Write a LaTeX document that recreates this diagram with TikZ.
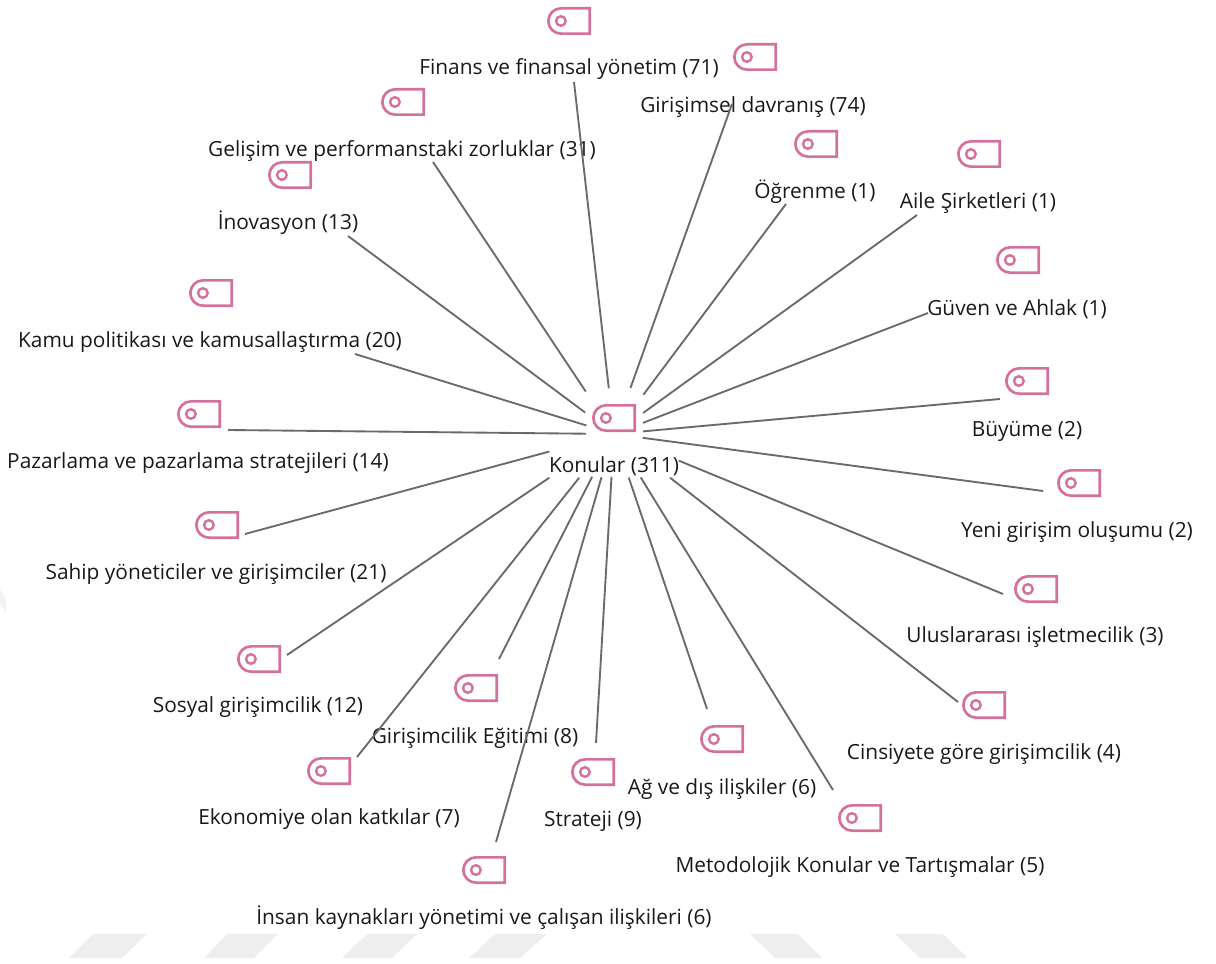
\documentclass[tikz,border=0pt]{standalone}
\usepackage{fontspec}
\setmainfont{Open Sans}
\usetikzlibrary{shapes.misc}
\definecolor{tagpink}{HTML}{D4709C}
\definecolor{linkgray}{HTML}{6A6A6A}
\definecolor{markgray}{HTML}{EEEEEE}
\tikzset{
  tagbox/.style={rounded rectangle,rounded rectangle right arc=none,draw=tagpink,line width=2pt,
    minimum width=31pt,minimum height=19pt,inner sep=0pt,
    path picture={\draw[tagpink,line width=1.8pt] ([xshift=9.4pt]path picture bounding box.west) circle (3.6pt);}},
  topic/.style={font=\fontsize{15.65}{18}\selectfont,inner sep=0pt,text height=14.5pt,text depth=3.5pt,text=black!90},
  link/.style={draw=linkgray,line width=1.4pt},
  gap/.style={shorten <=#1*0.75pt}
}
\begin{document}
\begin{tikzpicture}[x=0.75pt,y=-0.75pt]
  \useasboundingbox (0,0) rectangle (1216,963);
  % faint marks behind the picture
  \foreach \ta/\tb/\ba/\bb in {93/147/69/122, 227/278/204/254, 367/417/342/392, 495/547/469/520,
      750/798/775/822, 895/943/920/968}
    \fill[markgray] (\ta,934) -- (\tb,934) -- (\bb,958) -- (\ba,958) -- cycle;
  \fill[markgray!70] (0,588) -- (6,600) -- (6,613) -- (0,603) -- cycle;
  % centre
  \coordinate (konu) at (614,434);
  \node[tagbox] (hub) at (614,418) {};
  \node[topic] (hubtext) at (614,465) {Konular (311)};
  % upper half
  \node[tagbox] (t1) at (569,21) {};
  \node[topic] (l1) at (569,67) {Finans ve finansal yönetim (71)};
  \node[tagbox] (t2) at (755,57) {};
  \node[topic] (l2) at (753,105) {Girişimsel davranış (74)};
  \node[tagbox] (t3) at (403,102) {};
  \node[topic] (l3) at (402,149) {Gelişim ve performanstaki zorluklar (31)};
  \node[tagbox] (t4) at (816,144) {};
  \node[topic] (l4) at (815,191) {Öğrenme (1)};
  \node[tagbox] (t5) at (979,154) {};
  \node[topic] (l5) at (978,201) {Aile Şirketleri (1)};
  \node[tagbox] (t6) at (290,175) {};
  \node[topic] (l6) at (288,222) {İnovasyon (13)};
  \node[tagbox] (t7) at (1018,260) {};
  \node[topic] (l7) at (1017,308) {Güven ve Ahlak (1)};
  \node[tagbox] (t8) at (211,293) {};
  \node[topic] (l8) at (210,340) {Kamu politikası ve kamusallaştırma (20)};
  \node[tagbox] (t9) at (1027,381) {};
  \node[topic] (l9) at (1027,429) {Büyüme (2)};
  \node[tagbox] (t10) at (199,414) {};
  \node[topic] (l10) at (198,461) {Pazarlama ve pazarlama stratejileri (14)};
  % lower half
  \node[tagbox] (t11) at (1079,483) {};
  \node[topic] (l11) at (1077,530) {Yeni girişim oluşumu (2)};
  \node[tagbox] (t12) at (217,525) {};
  \node[topic] (l12) at (216,572) {Sahip yöneticiler ve girişimciler (21)};
  \node[tagbox] (t13) at (1036,589) {};
  \node[topic] (l13) at (1035,635) {Uluslararası işletmecilik (3)};
  \node[tagbox] (t14) at (259,659) {};
  \node[topic] (l14) at (258,705) {Sosyal girişimcilik (12)};
  \node[tagbox] (t15) at (476,688) {};
  \node[topic] (l15) at (475,736) {Girişimcilik Eğitimi (8)};
  \node[tagbox] (t16) at (984,705) {};
  \node[topic] (l16) at (984,752) {Cinsiyete göre girişimcilik (4)};
  \node[tagbox] (t17) at (722,739) {};
  \node[topic] (l17) at (722,787) {Ağ ve dış ilişkiler (6)};
  \node[tagbox] (t18) at (593,772) {};
  \node[topic] (l18) at (593,819) {Strateji (9)};
  \node[tagbox] (t19) at (329,771) {};
  \node[topic] (l19) at (329,817) {Ekonomiye olan katkılar (7)};
  \node[tagbox] (t20) at (860,818) {};
  \node[topic] (l20) at (860,865) {Metodolojik Konular ve Tartışmalar (5)};
  \node[tagbox] (t21) at (484,870) {};
  \node[topic] (l21) at (484,917) {İnsan kaynakları yönetimi ve çalışan ilişkileri (6)};
  % free ends of the spokes
  \foreach \n/\x/\y/\g in {1/574/82/46, 2/732/104/49, 3/433/162/51, 4/786/204/49, 5/917/215/36,
      6/348/236/36, 7/928/313/31, 8/355/354/29, 9/1000/399/29, 10/228/430/28, 11/1043/491/29,
      12/245/534/67, 13/1003/594/70, 14/287/655/78, 15/499/659/48, 16/958/702/71, 17/707/709/46,
      18/596/743/43, 19/357/757/56, 20/833/790/51, 21/496/842/45} {
    \coordinate (e\n) at (\x,\y);
    \draw[link,gap=\g] (konu) -- (e\n);
  }
\end{tikzpicture}
\end{document}
